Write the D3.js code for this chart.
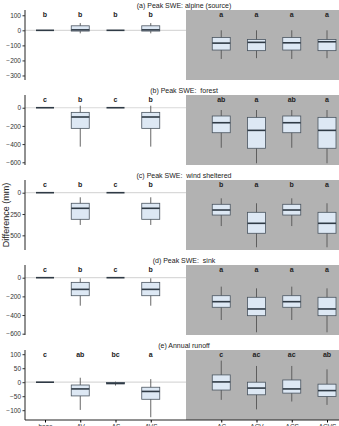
<!DOCTYPE html>
<html><head><meta charset="utf-8">
<script src="https://cdn.jsdelivr.net/npm/d3@7"></script>
<style>body{margin:0;background:#fff}svg{display:block;font-family:"Liberation Sans",Arial,sans-serif}</style>
</head><body>
<svg id="c" width="339" height="426"></svg>
<script>
const categories = ["base","AV","AS","AVS","AC","ACV","ACS","ACVS"];
const slots = ["base","AV","AS","AVS","gap","AC","ACV","ACS","ACVS"];

const titles = ["(a) Peak SWE: alpine (source)","(b) Peak SWE:  forest","(c) Peak SWE:  wind sheltered","(d) Peak SWE:  sink","(e) Annual runoff"];

const aLow  = [0,-20,0,-20,-190,-185,-190,-185];
const aQ1   = [0,-5,0,-5,-131,-135,-131,-135];
const aMed  = [0,3,0,3,-85,-80,-83,-76];
const aQ3   = [0,30,0,30,-48,-61,-48,-61];
const aHigh = [0,48,0,48,0,0,0,0];
const aLetters = ["b","b","b","b","a","a","a","a"];
const aTicks = [100,0,-100,-200,-300];

const bLow  = [0,-428,0,-428,-440,-611,-440,-611];
const bQ1   = [0,-227,0,-227,-275,-446,-275,-446];
const bMed  = [0,-102,0,-102,-165,-249,-165,-249];
const bQ3   = [0,-51,0,-51,-91,-106,-91,-106];
const bHigh = [0,22,0,22,-25,-25,-25,-25];
const bLetters = ["c","b","c","b","ab","a","ab","a"];
const bTicks = [0,-200,-400,-600];

const cLow  = [0,-378,0,-378,-391,-640,-391,-640];
const cQ1   = [0,-312,0,-312,-262,-476,-262,-476];
const cMed  = [0,-183,0,-183,-203,-359,-203,-359];
const cQ3   = [0,-124,0,-124,-136,-230,-136,-230];
const cHigh = [0,-54,0,-54,-66,-124,-66,-124];
const cLetters = ["c","b","c","b","b","a","b","a"];
const cTicks = [0,-250,-500];

const dLow  = [0,-300,0,-300,-453,-585,-453,-585];
const dQ1   = [0,-193,0,-193,-317,-407,-317,-407];
const dMed  = [0,-125,0,-125,-257,-335,-257,-335];
const dQ3   = [0,-50,0,-50,-193,-210,-193,-210];
const dHigh = [0,-7,0,-7,-96,-114,-96,-114];
const dLetters = ["c","b","c","b","a","a","a","a"];
const dTicks = [0,-200,-400,-600];

const eLow  = [0,-99,-12,-125,-63,-97,-69,-81];
const eQ1   = [0,-49,-6,-61,-28,-45,-39,-51];
const eMed  = [0,-24,-4,-33,1,-21,-24,-30];
const eQ3   = [0,-10,-1,-18,26,0,8,-7];
const eHigh = [0,16,2,11,77,58,58,46];
const eLetters = ["c","ab","bc","a","c","ac","ac","ab"];
const eTicks = [100,50,0,-50,-100];

const panels = [
  {low:aLow,q1:aQ1,med:aMed,q3:aQ3,high:aHigh,letters:aLetters,ticks:aTicks,domain:[-330,135]},
  {low:bLow,q1:bQ1,med:bMed,q3:bQ3,high:bHigh,letters:bLetters,ticks:bTicks,domain:[-630,140]},
  {low:cLow,q1:cQ1,med:cMed,q3:cQ3,high:cHigh,letters:cLetters,ticks:cTicks,domain:[-672,149]},
  {low:dLow,q1:dQ1,med:dMed,q3:dQ3,high:dHigh,letters:dLetters,ticks:dTicks,domain:[-614,136]},
  {low:eLow,q1:eQ1,med:eMed,q3:eQ3,high:eHigh,letters:eLetters,ticks:eTicks,domain:[-135,115]}
];

const svg = d3.select("#c");
const left = 25, right = 339, ph = 70, top0 = 10, pstep = 85, bw = 18;
const x = d3.scalePoint().domain(slots).range([45, 327]);
const fmt = d3.format("d");

panels.forEach((p, i) => {
  const top = top0 + i * pstep;
  const y = d3.scaleLinear().domain(p.domain).range([top + ph, top]);
  const g = svg.append("g");
  // title
  g.append("text").attr("x", 184).attr("y", top - 2.5).attr("text-anchor", "middle")
    .attr("font-size", 7).attr("fill", "#222").style("white-space", "pre").text(titles[i]);
  // zero line
  g.append("line").attr("x1", left).attr("x2", right).attr("y1", y(0)).attr("y2", y(0))
    .attr("stroke", "#d9d9d9").attr("stroke-width", 1.2);
  // gray region
  g.append("rect").attr("x", x("gap")).attr("y", top).attr("width", right - x("gap")).attr("height", ph)
    .attr("fill", "#b2b2b2");
  // y axis
  const ax = g.append("g").attr("transform", `translate(${left},0)`)
    .call(d3.axisLeft(y).tickValues(p.ticks).tickSize(2.5).tickPadding(1.5).tickFormat(fmt));
  ax.select(".domain").attr("d", `M0,${top}V${top + ph}`).attr("stroke", "#222");
  ax.selectAll("text").attr("font-size", 6.5).attr("fill", "#333").attr("font-family", "Liberation Sans, Arial, sans-serif");
  ax.selectAll(".tick line").attr("stroke", "#333");
  // boxes
  const data = categories.map((c, j) => ({c, low:p.low[j], q1:p.q1[j], med:p.med[j], q3:p.q3[j], high:p.high[j], letter:p.letters[j]}));
  const bx = g.selectAll("g.box").data(data).join("g").attr("class", "box");
  bx.append("line").attr("x1", d => x(d.c)).attr("x2", d => x(d.c))
    .attr("y1", d => y(d.low)).attr("y2", d => y(d.high)).attr("stroke", "#555").attr("stroke-width", 0.9);
  bx.append("rect").attr("x", d => x(d.c) - bw / 2).attr("width", bw)
    .attr("y", d => y(d.q3)).attr("height", d => Math.max(0, y(d.q1) - y(d.q3)))
    .attr("fill", "#dde8f4").attr("stroke", "#4a5560").attr("stroke-width", 0.8);
  bx.append("line").attr("x1", d => x(d.c) - bw / 2).attr("x2", d => x(d.c) + bw / 2)
    .attr("y1", d => y(d.med)).attr("y2", d => y(d.med)).attr("stroke", "#2f3a45").attr("stroke-width", 1.6);
  bx.append("text").attr("x", d => x(d.c)).attr("y", top + 6.5).attr("text-anchor", "middle")
    .attr("font-size", 7).attr("font-weight", "bold").attr("fill", "#222").text(d => d.letter);
  if (i === panels.length - 1) {
    const xa = g.append("g").attr("transform", `translate(0,${top + ph})`)
      .call(d3.axisBottom(x).tickValues(categories).tickSize(2.5).tickPadding(1.5));
    xa.select(".domain").attr("d", `M${left},0H${right}`).attr("stroke", "#222");
    xa.selectAll("text").attr("font-size", 6.5).attr("fill", "#333").attr("font-family", "Liberation Sans, Arial, sans-serif");
  }
});

svg.append("text").attr("transform", "translate(9,215) rotate(-90)").attr("text-anchor", "middle")
  .attr("font-size", 9).attr("fill", "#222").text("Difference (mm)");
</script>
</body></html>
